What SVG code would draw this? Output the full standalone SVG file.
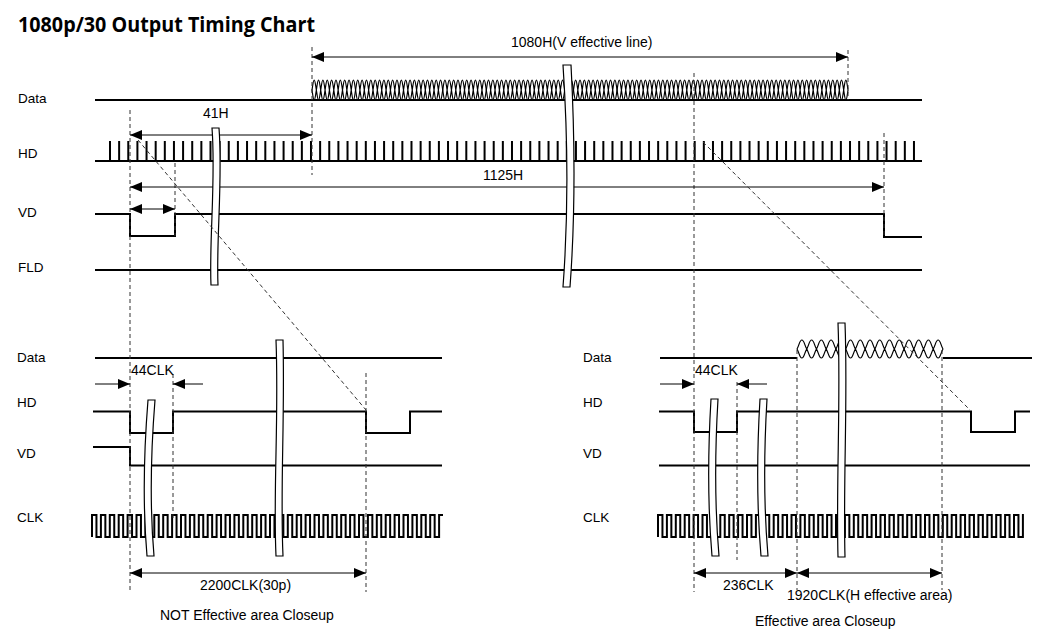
<svg xmlns="http://www.w3.org/2000/svg" xmlns:xlink="http://www.w3.org/1999/xlink" width="1063" height="636" viewBox="0 0 1063 636">
<style>
.sig{fill:none;stroke:#000;stroke-width:2;stroke-linejoin:miter}
.eye{fill:none;stroke:#000;stroke-width:1.2}
.dash{fill:none;stroke:#333;stroke-width:1;stroke-dasharray:4 3}
.arr{fill:none;stroke:#000;stroke-width:1}
.brk{fill:#fff;stroke:#000;stroke-width:1.2}
.lbl{font-family:"Liberation Sans",Arial,sans-serif;font-size:13.5px;fill:#000}
.ann{font-family:"Liberation Sans",Arial,sans-serif;font-size:14px;fill:#000}
.title{font-family:"Open Sans","Noto Sans",sans-serif;font-size:21px;font-weight:bold;fill:#000}
</style>
<defs>
<marker id="ah" viewBox="0 0 12 10" refX="12" refY="5" markerWidth="12" markerHeight="10" markerUnits="userSpaceOnUse" orient="auto-start-reverse"><path d="M0,0 L12,5 L0,10 Z" fill="#000"/></marker>
<path id="eye10" class="eye" d="M0,90
c0.7,-4 1.2,-10 2.179,-10s1.479,6 2.179,10 c0.7,-4 1.2,-10 2.179,-10s1.479,6 2.179,10 c0.7,-4 1.2,-10 2.179,-10s1.479,6 2.179,10 c0.7,-4 1.2,-10 2.179,-10s1.479,6 2.179,10 c0.7,-4 1.2,-10 2.179,-10s1.479,6 2.179,10
c0.7,-4 1.2,-10 2.179,-10s1.479,6 2.179,10 c0.7,-4 1.2,-10 2.179,-10s1.479,6 2.179,10 c0.7,-4 1.2,-10 2.179,-10s1.479,6 2.179,10 c0.7,-4 1.2,-10 2.179,-10s1.479,6 2.179,10 c0.7,-4 1.2,-10 2.179,-10s1.479,6 2.179,10
M0,90
c0.7,4 1.2,10 2.179,10s1.479,-6 2.179,-10 c0.7,4 1.2,10 2.179,10s1.479,-6 2.179,-10 c0.7,4 1.2,10 2.179,10s1.479,-6 2.179,-10 c0.7,4 1.2,10 2.179,10s1.479,-6 2.179,-10 c0.7,4 1.2,10 2.179,10s1.479,-6 2.179,-10
c0.7,4 1.2,10 2.179,10s1.479,-6 2.179,-10 c0.7,4 1.2,10 2.179,10s1.479,-6 2.179,-10 c0.7,4 1.2,10 2.179,10s1.479,-6 2.179,-10 c0.7,4 1.2,10 2.179,10s1.479,-6 2.179,-10 c0.7,4 1.2,10 2.179,10s1.479,-6 2.179,-10"/>
<path id="eye3" class="eye" d="M0,90
c0.7,-4 1.2,-10 2.179,-10s1.479,6 2.179,10 c0.7,-4 1.2,-10 2.179,-10s1.479,6 2.179,10 c0.7,-4 1.2,-10 2.179,-10s1.479,6 2.179,10
M0,90
c0.7,4 1.2,10 2.179,10s1.479,-6 2.179,-10 c0.7,4 1.2,10 2.179,10s1.479,-6 2.179,-10 c0.7,4 1.2,10 2.179,10s1.479,-6 2.179,-10"/>
</defs>
<rect width="1063" height="636" fill="#fff"/>
<text class="title" x="18" y="31.5" textLength="297" lengthAdjust="spacingAndGlyphs">1080p/30 Output Timing Chart</text>

<g id="top-signals">
<g id="top-data">
<path class="sig" d="M95,100 H922" stroke-width="2.4"/>
<use href="#eye10" xlink:href="#eye10" x="312"/>
<use href="#eye10" xlink:href="#eye10" x="355.58"/>
<use href="#eye10" xlink:href="#eye10" x="399.16"/>
<use href="#eye10" xlink:href="#eye10" x="442.74"/>
<use href="#eye10" xlink:href="#eye10" x="486.32"/>
<use href="#eye10" xlink:href="#eye10" x="529.9"/>
<use href="#eye10" xlink:href="#eye10" x="573.48"/>
<use href="#eye10" xlink:href="#eye10" x="617.06"/>
<use href="#eye10" xlink:href="#eye10" x="660.64"/>
<use href="#eye10" xlink:href="#eye10" x="704.22"/>
<use href="#eye10" xlink:href="#eye10" x="747.8"/>
<use href="#eye10" xlink:href="#eye10" x="791.38"/>
<use href="#eye3" xlink:href="#eye3" x="834.96"/>
</g>
<g id="top-hd">
<path class="sig" d="M95,161 H922"/>
<path class="sig" d="M110,141v20
m9.136,-20v20m9.136,-20v20m9.136,-20v20m9.136,-20v20m9.136,-20v20m9.136,-20v20m9.136,-20v20m9.136,-20v20
m9.136,-20v20m9.136,-20v20m9.136,-20v20m9.136,-20v20m9.136,-20v20m9.136,-20v20m9.136,-20v20m9.136,-20v20
m9.136,-20v20m9.136,-20v20m9.136,-20v20m9.136,-20v20m9.136,-20v20m9.136,-20v20m9.136,-20v20m9.136,-20v20
m9.136,-20v20m9.136,-20v20m9.136,-20v20m9.136,-20v20m9.136,-20v20m9.136,-20v20m9.136,-20v20m9.136,-20v20
m9.136,-20v20m9.136,-20v20m9.136,-20v20m9.136,-20v20m9.136,-20v20m9.136,-20v20m9.136,-20v20m9.136,-20v20
m9.136,-20v20m9.136,-20v20m9.136,-20v20m9.136,-20v20m9.136,-20v20m9.136,-20v20m9.136,-20v20m9.136,-20v20
m9.136,-20v20m9.136,-20v20m9.136,-20v20m9.136,-20v20m9.136,-20v20m9.136,-20v20m9.136,-20v20m9.136,-20v20
m9.136,-20v20m9.136,-20v20m9.136,-20v20m9.136,-20v20m9.136,-20v20m9.136,-20v20m9.136,-20v20m9.136,-20v20
m9.136,-20v20m9.136,-20v20m9.136,-20v20m9.136,-20v20m9.136,-20v20m9.136,-20v20m9.136,-20v20m9.136,-20v20
m9.136,-20v20m9.136,-20v20m9.136,-20v20m9.136,-20v20m9.136,-20v20m9.136,-20v20m9.136,-20v20m9.136,-20v20
m9.136,-20v20m9.136,-20v20m9.136,-20v20m9.136,-20v20m9.136,-20v20m9.136,-20v20m9.136,-20v20m9.136,-20v20"/>
</g>
<path id="top-vd" class="sig" d="M95,214 H130 V236 H175 V214 H884 V237 H922"/>
<path id="top-fld" class="sig" d="M95,270 H922"/>
</g>

<g id="closeup-left">
<path id="l-data" class="sig" d="M95,358 H442"/>
<path id="l-hd" class="sig" d="M93,411.5 H130 V433 H173 V411.5 H366 V433 H410 V411.5 H442"/>
<path id="l-vd" class="sig" d="M93,447 H130 V465.5 H442"/>
<path id="l-clk" class="sig" d="M92,537v-22
h4.45v22h4.45v-22h4.45v22h4.45v-22h4.45v22h4.45v-22h4.45v22h4.45v-22h4.45v22h4.45v-22
h4.45v22h4.45v-22h4.45v22h4.45v-22h4.45v22h4.45v-22h4.45v22h4.45v-22h4.45v22h4.45v-22
h4.45v22h4.45v-22h4.45v22h4.45v-22h4.45v22h4.45v-22h4.45v22h4.45v-22h4.45v22h4.45v-22
h4.45v22h4.45v-22h4.45v22h4.45v-22h4.45v22h4.45v-22h4.45v22h4.45v-22h4.45v22h4.45v-22
h4.45v22h4.45v-22h4.45v22h4.45v-22h4.45v22h4.45v-22h4.45v22h4.45v-22h4.45v22h4.45v-22
h4.45v22h4.45v-22h4.45v22h4.45v-22h4.45v22h4.45v-22h4.45v22h4.45v-22h4.45v22h4.45v-22
h4.45v22h4.45v-22h4.45v22h4.45v-22h4.45v22h4.45v-22h4.45v22h4.45v-22h4.45v22h4.45v-22
h4.45v22h4.45v-22h4.45v22h4.45v-22h4.45v22h4.45v-22h4.45v22h4.45v-22
h3.9"/>
</g>

<g id="closeup-right">
<g id="r-data">
<path class="sig" d="M660,358 H797 M943,358 H1032"/>
<path class="eye" stroke-width="1.6" d="M797,349
c2.4,-4.2 2.6,-9 4.866,-9s2.466,4.8 4.867,9c2.4,-4.2 2.6,-9 4.866,-9s2.466,4.8 4.867,9c2.4,-4.2 2.6,-9 4.866,-9s2.466,4.8 4.867,9c2.4,-4.2 2.6,-9 4.866,-9s2.466,4.8 4.867,9c2.4,-4.2 2.6,-9 4.866,-9s2.466,4.8 4.867,9
c2.4,-4.2 2.6,-9 4.866,-9s2.466,4.8 4.867,9c2.4,-4.2 2.6,-9 4.866,-9s2.466,4.8 4.867,9c2.4,-4.2 2.6,-9 4.866,-9s2.466,4.8 4.867,9c2.4,-4.2 2.6,-9 4.866,-9s2.466,4.8 4.867,9c2.4,-4.2 2.6,-9 4.866,-9s2.466,4.8 4.867,9
c2.4,-4.2 2.6,-9 4.866,-9s2.466,4.8 4.867,9c2.4,-4.2 2.6,-9 4.866,-9s2.466,4.8 4.867,9c2.4,-4.2 2.6,-9 4.866,-9s2.466,4.8 4.867,9c2.4,-4.2 2.6,-9 4.866,-9s2.466,4.8 4.867,9c2.4,-4.2 2.6,-9 4.866,-9s2.466,4.8 4.867,9"/>
<path class="eye" stroke-width="1.6" d="M797,349
c2.4,4.2 2.6,9 4.866,9s2.466,-4.8 4.867,-9c2.4,4.2 2.6,9 4.866,9s2.466,-4.8 4.867,-9c2.4,4.2 2.6,9 4.866,9s2.466,-4.8 4.867,-9c2.4,4.2 2.6,9 4.866,9s2.466,-4.8 4.867,-9c2.4,4.2 2.6,9 4.866,9s2.466,-4.8 4.867,-9
c2.4,4.2 2.6,9 4.866,9s2.466,-4.8 4.867,-9c2.4,4.2 2.6,9 4.866,9s2.466,-4.8 4.867,-9c2.4,4.2 2.6,9 4.866,9s2.466,-4.8 4.867,-9c2.4,4.2 2.6,9 4.866,9s2.466,-4.8 4.867,-9c2.4,4.2 2.6,9 4.866,9s2.466,-4.8 4.867,-9
c2.4,4.2 2.6,9 4.866,9s2.466,-4.8 4.867,-9c2.4,4.2 2.6,9 4.866,9s2.466,-4.8 4.867,-9c2.4,4.2 2.6,9 4.866,9s2.466,-4.8 4.867,-9c2.4,4.2 2.6,9 4.866,9s2.466,-4.8 4.867,-9c2.4,4.2 2.6,9 4.866,9s2.466,-4.8 4.867,-9"/>
</g>
<path id="r-hd" class="sig" d="M659,411.5 H694 V432 H737 V411.5 H971 V432 H1015 V411.5 H1030"/>
<path id="r-vd" class="sig" d="M659,465.5 H1030"/>
<path id="r-clk" class="sig" d="M658,537v-22
h4.45v22h4.45v-22h4.45v22h4.45v-22h4.45v22h4.45v-22h4.45v22h4.45v-22h4.45v22h4.45v-22
h4.45v22h4.45v-22h4.45v22h4.45v-22h4.45v22h4.45v-22h4.45v22h4.45v-22h4.45v22h4.45v-22
h4.45v22h4.45v-22h4.45v22h4.45v-22h4.45v22h4.45v-22h4.45v22h4.45v-22h4.45v22h4.45v-22
h4.45v22h4.45v-22h4.45v22h4.45v-22h4.45v22h4.45v-22h4.45v22h4.45v-22h4.45v22h4.45v-22
h4.45v22h4.45v-22h4.45v22h4.45v-22h4.45v22h4.45v-22h4.45v22h4.45v-22h4.45v22h4.45v-22
h4.45v22h4.45v-22h4.45v22h4.45v-22h4.45v22h4.45v-22h4.45v22h4.45v-22h4.45v22h4.45v-22
h4.45v22h4.45v-22h4.45v22h4.45v-22h4.45v22h4.45v-22h4.45v22h4.45v-22h4.45v22h4.45v-22
h4.45v22h4.45v-22h4.45v22h4.45v-22h4.45v22h4.45v-22h4.45v22h4.45v-22h4.45v22h4.45v-22
h4.45v22h4.45v-22
h1"/>
</g>

<g id="connectors">
<g id="guides">
<path class="dash" d="M312,47 V175"/>
<path class="dash" d="M848,50 V100"/>
<path class="dash" d="M130,110 V590"/>
<path class="dash" d="M175,163 V236" stroke="#777"/>
<path class="dash" d="M884,133 V237"/>
<path class="dash" d="M694,73 V592"/>
<path class="dash" d="M173,374 V520"/>
<path class="dash" d="M366,373 V592"/>
<path class="dash" d="M737,382 V560"/>
<path class="dash" d="M797,350 V590"/>
<path class="dash" d="M942,350 V590"/>
</g>
<g id="dimensions">
<path class="arr" d="M312,57 H848" marker-start="url(#ah)" marker-end="url(#ah)"/>
<path class="arr" d="M130,135 H312" marker-start="url(#ah)" marker-end="url(#ah)"/>
<path class="arr" d="M130,187 H884" marker-start="url(#ah)" marker-end="url(#ah)"/>
<path class="arr" d="M130,209 H175" marker-start="url(#ah)" marker-end="url(#ah)"/>
<path class="arr" d="M95,384 H130" marker-end="url(#ah)"/>
<path class="arr" d="M203,384 H173" marker-end="url(#ah)"/>
<path class="arr" d="M130,573 H366" marker-start="url(#ah)" marker-end="url(#ah)"/>
<path class="arr" d="M660,384 H694" marker-end="url(#ah)"/>
<path class="arr" d="M767,384 H737" marker-end="url(#ah)"/>
<path class="arr" d="M694,573 H797" marker-start="url(#ah)" marker-end="url(#ah)"/>
<path class="arr" d="M797,573 H942" marker-start="url(#ah)" marker-end="url(#ah)"/>
</g>
</g>

<g id="breaks">
<path class="brk" d="M212,128 C216,180 209,240 211,285 L218,285 C216,240 223,180 219,128 Z"/>
<path class="brk" d="M563,65 C568,140 568,220 563,287 L570,287 C575,220 575,140 571,65 Z"/>
<path class="brk" d="M148,400 C144,450 143,510 147,556 L154,556 C150,510 151,450 155,400 Z"/>
<path class="brk" d="M276,340 C279,420 273,490 276,556 L283,556 C280,490 285,420 283,340 Z"/>
<path class="brk" d="M711,399 C708,450 708,510 712,556 L719,556 C715,510 715,450 718,399 Z"/>
<path class="brk" d="M760,399 C757,450 757,510 761,556 L768,556 C764,510 764,450 767,399 Z"/>
<path class="brk" d="M838,323 C841,400 836,480 838,557 L845,557 C843,480 848,400 845,323 Z"/>
</g>

<g id="zoom-lines">
<path class="dash" d="M138,140 L366,410"/>
<path class="dash" d="M703,142 L970,410"/>
</g>

<g id="labels">
<text class="lbl" x="18" y="103">Data</text>
<text class="lbl" x="18" y="158">HD</text>
<text class="lbl" x="18" y="217">VD</text>
<text class="lbl" x="18" y="272">FLD</text>
<text class="lbl" x="17" y="362">Data</text>
<text class="lbl" x="17" y="407">HD</text>
<text class="lbl" x="17" y="458">VD</text>
<text class="lbl" x="17" y="522">CLK</text>
<text class="lbl" x="583" y="362">Data</text>
<text class="lbl" x="583" y="407">HD</text>
<text class="lbl" x="583" y="458">VD</text>
<text class="lbl" x="583" y="522">CLK</text>
<text class="ann" x="511" y="47">1080H(V effective line)</text>
<text class="ann" x="203" y="118">41H</text>
<text class="ann" x="483" y="180">1125H</text>
<text class="ann" x="131" y="375">44CLK</text>
<text class="ann" x="200" y="590">2200CLK(30p)</text>
<text class="ann" x="160" y="620">NOT Effective area Closeup</text>
<text class="ann" x="695" y="375">44CLK</text>
<text class="ann" x="723" y="590">236CLK</text>
<text class="ann" x="787" y="600">1920CLK(H effective area)</text>
<text class="ann" x="755" y="626">Effective area Closeup</text>
</g>
</svg>
